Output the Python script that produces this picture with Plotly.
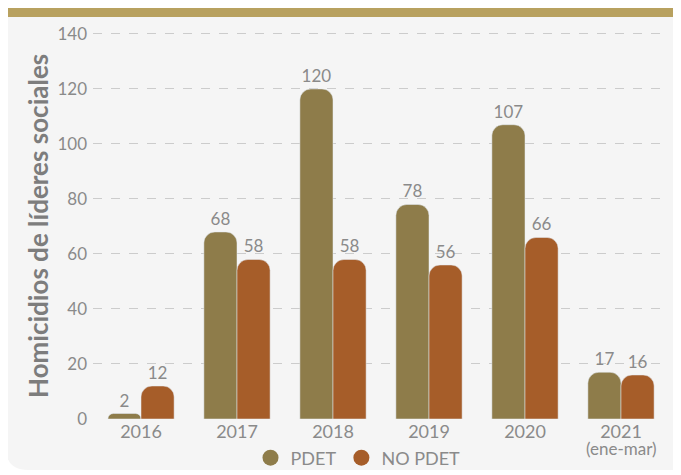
import plotly.graph_objects as go

years = ["2016", "2017", "2018", "2019", "2020", "2021"]
year_note = "(ene-mar)"
pdet = [2, 68, 120, 78, 107, 17]
no_pdet = [12, 58, 58, 56, 66, 16]
y_ticks = [0, 20, 40, 60, 80, 100, 120, 140]

C_PDET = "#8e7c4a"
C_NO = "#a65d29"
GRAY_TXT = "#8a8a8a"
FONT = "Lato, Open Sans, sans-serif"

# page has an 8px body margin; figure sized to fit the 681x475 window
OFF = 8
W, H = 681 - OFF, 475 - OFF
ML, MR, MT, MB = 93 - OFF, 12, 29 - OFF, 56
PW, PH = W - ML - MR, H - MT - MB

def px(x):  # page pixel x -> paper
    return (x - OFF - ML) / PW

def py(y):  # page pixel y -> paper
    return (H - MB - (y - OFF)) / PH

fig = go.Figure()
fig.add_trace(go.Bar(x=years, y=pdet, name="PDET", marker_color=C_PDET, text=pdet,
                     textposition="outside", showlegend=False, cliponaxis=False))
fig.add_trace(go.Bar(x=years, y=no_pdet, name="NO PDET", marker_color=C_NO, text=no_pdet,
                     textposition="outside", showlegend=False, cliponaxis=False))
for name, col in [("PDET", C_PDET), ("NO PDET", C_NO)]:
    fig.add_trace(go.Scatter(x=[years[0]], y=[None], mode="markers", name=name,
                             marker=dict(color=col, size=20, symbol="circle")))

# panel with rounded bottom-left corner
r = 22
x0, x1, y0, y1 = 6, 690, 17, 470
path = (f"M {px(x0)},{py(y0)} L {px(x1)},{py(y0)} L {px(x1)},{py(y1)} "
        f"L {px(x0 + r)},{py(y1)} Q {px(x0)},{py(y1)} {px(x0)},{py(y1 - r)} Z")
shapes = [
    dict(type="path", xref="paper", yref="paper", path=path, fillcolor="#f5f5f5",
         line=dict(width=0), layer="below"),
    dict(type="rect", xref="paper", yref="paper", x0=px(6), x1=px(690), y0=py(17), y1=py(8),
         fillcolor="#b8a15f", line=dict(width=0), layer="below"),
]

annotations = [
    dict(x=5.5 / 6, xref="paper", y=py(448), yref="paper", text=year_note,
         showarrow=False, font=dict(size=17, color=GRAY_TXT, family=FONT),
         xanchor="center", yanchor="middle"),
    dict(x=px(38), xref="paper", y=py(226), yref="paper", text="<b>Homicidios de líderes sociales</b>",
         textangle=-90, showarrow=False, font=dict(size=26, color="#7d7d7d", family=FONT),
         xanchor="center", yanchor="middle"),
]

fig.update_layout(
    width=W, height=H,
    margin=dict(l=ML, r=MR, t=MT, b=MB, autoexpand=False),
    paper_bgcolor="white", plot_bgcolor="rgba(0,0,0,0)",
    font=dict(family=FONT, color=GRAY_TXT, size=18),
    barmode="group", bargap=0.31, bargroupgap=0.0,
    barcornerradius=11,
    shapes=shapes,
    annotations=annotations,
    showlegend=True,
    legend=dict(orientation="h", x=px(358), xanchor="center", y=py(458), yanchor="middle",
                bgcolor="rgba(0,0,0,0)", font=dict(size=18, color=GRAY_TXT),
                itemwidth=30, tracegroupgap=0),
)
fig.update_traces(textfont=dict(size=17, color=GRAY_TXT), selector=dict(type="bar"))
fig.update_xaxes(type="category", categoryorder="array", categoryarray=years,
                 showgrid=False, zeroline=False, range=[-0.5, 5.5],
                 showline=False, ticks="", automargin=False,
                 tickfont=dict(size=18, color=GRAY_TXT))
fig.update_yaxes(range=[0, 141.8], tickvals=y_ticks, showgrid=True, gridcolor="#cccccc",
                 griddash="dash", gridwidth=1, zeroline=False, showline=False,
                 ticks="", ticklabelstandoff=5, automargin=False,
                 tickfont=dict(size=17, color=GRAY_TXT))

fig.write_html("out.html")
